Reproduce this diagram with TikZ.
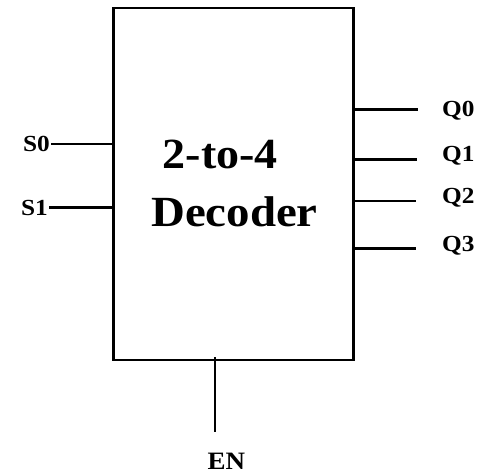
\documentclass[tikz,border=0pt]{standalone}
\usepackage{fontspec}
\setmainfont{Liberation Serif}
\newcommand{\widen}[2]{\scalebox{#1}[1]{#2}}
\begin{document}
\begin{tikzpicture}[x=1pt,y=-1pt,line width=2.4pt,
  pinlabel/.style={font=\bfseries\fontsize{23}{25}\selectfont,inner sep=0pt},
  title/.style={font=\bfseries\fontsize{43}{47}\selectfont,inner sep=0pt}]
\useasboundingbox (0,0) rectangle (477,474);
\node[draw,outer sep=0pt,minimum width=240pt,minimum height=352pt] (dec) at (233.5,184) {};

\node[title,anchor=base west] (t1) at (161.7,168.3) {\widen{1.07}{2-to-4}};
\node[title,anchor=base west] (t2) at (150,226.7) {\widen{1.09}{Decoder}};

% inputs
\node[pinlabel,anchor=base east] (S0) at (51,151.5) {\widen{1.1}{S0}};
\node[pinlabel,anchor=base east] (S1) at (49,215) {\widen{1.1}{S1}};
\draw (S0.east) -- (S0.east -| dec.west);
\draw (S1.east) -- (S1.east -| dec.west);

% outputs
\node[pinlabel,anchor=base west] (Q0) at (441,116) {\widen{1.1}{Q0}};
\node[pinlabel,anchor=base west] (Q1) at (441,161.5) {\widen{1.1}{Q1}};
\node[pinlabel,anchor=base west] (Q2) at (441,203) {\widen{1.1}{Q2}};
\node[pinlabel,anchor=base west] (Q3) at (441,251) {\widen{1.1}{Q3}};
\coordinate (q0) at (418,109.3);
\coordinate (q1) at (417,159.3);
\coordinate (q2) at (416,200.7);
\coordinate (q3) at (416,248.3);
\draw (q0 -| dec.east) -- (q0);
\draw (q1 -| dec.east) -- (q1);
\draw (q2 -| dec.east) -- (q2);
\draw (q3 -| dec.east) -- (q3);

% enable
\node[pinlabel,font=\bfseries\fontsize{25}{27}\selectfont,anchor=base west] (EN) at (206.5,469.5) {\widen{1.08}{EN}};
\coordinate (en) at (215,431.7);
\draw ([yshift=3pt]en |- dec.south) -- (en);
\end{tikzpicture}
\end{document}
